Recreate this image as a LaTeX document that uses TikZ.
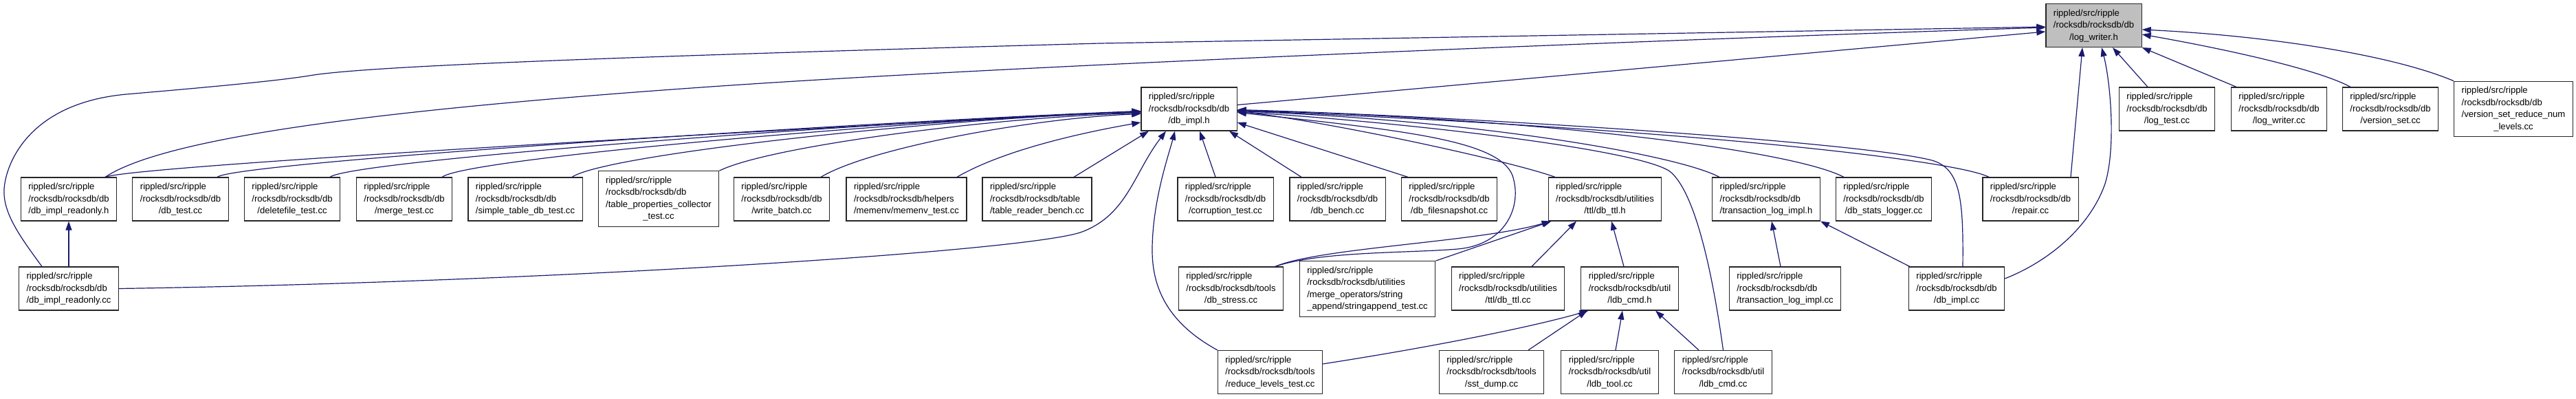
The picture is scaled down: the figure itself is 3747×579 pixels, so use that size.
\documentclass[tikz,border=0pt]{standalone}
\usepackage{fontspec}
\setmainfont{Liberation Sans}
\usepackage{xcolor}
\usetikzlibrary{arrows.meta}
\definecolor{edgeblue}{HTML}{191970}
\renewcommand{\arraystretch}{1}
\newcommand{\fpath}[2]{\begin{tabular}{@{}l@{}}rippled/src/ripple\\#1\\\multicolumn{1}{@{}c@{}}{#2}\end{tabular}}

\begin{document}
\begin{tikzpicture}[
  x=1pt, y=-1pt,
  box/.style={draw=black!85, line width=1.2pt, fill=white, inner xsep=11pt, inner ysep=5.25pt, font=\fontsize{13.1}{17.5}\selectfont},
  arr/.style={-{Triangle[length=13pt,width=9pt]}, line width=1.2pt, draw=edgeblue, fill=none}
]
\useasboundingbox (0,0) rectangle (3747,579);

\node[box, fill=black!25] (logwrh) at (3045.5,37) {\fpath{/rocksdb/rocksdb/db}{/log\_writer.h}};
\node[box] (logtest) at (3152,158.5) {\fpath{/rocksdb/rocksdb/db}{/log\_test.cc}};
\node[box] (logwrcc) at (3315,158.5) {\fpath{/rocksdb/rocksdb/db}{/log\_writer.cc}};
\node[box] (verset) at (3477,158.5) {\fpath{/rocksdb/rocksdb/db}{/version\_set.cc}};
\node[box] (vsreduce) at (3656,158.5) {\fpath{/rocksdb/rocksdb/db\\/version\_set\_reduce\_num}{\_levels.cc}};
\node[box] (dbimplh) at (1729.5,158.5) {\fpath{/rocksdb/rocksdb/db}{/db\_impl.h}};

\node[box] (roh) at (100,289.5) {\fpath{/rocksdb/rocksdb/db}{/db\_impl\_readonly.h}};
\node[box] (dbtest) at (262.5,289.5) {\fpath{/rocksdb/rocksdb/db}{/db\_test.cc}};
\node[box] (delfile) at (425,289.5) {\fpath{/rocksdb/rocksdb/db}{/deletefile\_test.cc}};
\node[box] (mergetest) at (588,289.5) {\fpath{/rocksdb/rocksdb/db}{/merge\_test.cc}};
\node[box] (simpletable) at (764,289.5) {\fpath{/rocksdb/rocksdb/db}{/simple\_table\_db\_test.cc}};
\node[box] (tblprops) at (958,289) {\fpath{/rocksdb/rocksdb/db\\/table\_properties\_collector}{\_test.cc}};
\node[box] (wbatch) at (1137,289.5) {\fpath{/rocksdb/rocksdb/db}{/write\_batch.cc}};
\node[box] (memenv) at (1318.5,289.5) {\fpath{/rocksdb/rocksdb/helpers}{/memenv/memenv\_test.cc}};
\node[box] (trbench) at (1508.5,289.5) {\fpath{/rocksdb/rocksdb/table}{/table\_reader\_bench.cc}};
\node[box] (corrupt) at (1782.5,289.5) {\fpath{/rocksdb/rocksdb/db}{/corruption\_test.cc}};
\node[box] (dbbench) at (1945.5,289.5) {\fpath{/rocksdb/rocksdb/db}{/db\_bench.cc}};
\node[box] (fsnap) at (2108,289.5) {\fpath{/rocksdb/rocksdb/db}{/db\_filesnapshot.cc}};
\node[box] (ttlh) at (2334.5,289.5) {\fpath{/rocksdb/rocksdb/utilities}{/ttl/db\_ttl.h}};
\node[box] (tlogh) at (2569,289.5) {\fpath{/rocksdb/rocksdb/db}{/transaction\_log\_impl.h}};
\node[box] (statslog) at (2740,289.5) {\fpath{/rocksdb/rocksdb/db}{/db\_stats\_logger.cc}};
\node[box] (repair) at (2953.5,289.5) {\fpath{/rocksdb/rocksdb/db}{/repair.cc}};

\node[box] (rocc) at (100,419.5) {\fpath{/rocksdb/rocksdb/db}{/db\_impl\_readonly.cc}};
\node[box] (dbstress) at (1790.5,419.5) {\fpath{/rocksdb/rocksdb/tools}{/db\_stress.cc}};
\node[box] (strappend) at (1989,420) {\fpath{/rocksdb/rocksdb/utilities\\/merge\_operators/string}{\_append/stringappend\_test.cc}};
\node[box] (ttlcc) at (2193.5,419.5) {\fpath{/rocksdb/rocksdb/utilities}{/ttl/db\_ttl.cc}};
\node[box] (ldbcmdh) at (2370.5,419.5) {\fpath{/rocksdb/rocksdb/util}{/ldb\_cmd.h}};
\node[box] (tlogcc) at (2596.5,419.5) {\fpath{/rocksdb/rocksdb/db}{/transaction\_log\_impl.cc}};
\node[box] (dbimplcc) at (2846,419.5) {\fpath{/rocksdb/rocksdb/db}{/db\_impl.cc}};

\node[box] (reduce) at (1847.5,541) {\fpath{/rocksdb/rocksdb/tools}{/reduce\_levels\_test.cc}};
\node[box] (sstdump) at (2169.5,541) {\fpath{/rocksdb/rocksdb/tools}{/sst\_dump.cc}};
\node[box] (ldbtool) at (2341.5,541) {\fpath{/rocksdb/rocksdb/util}{/ldb\_tool.cc}};
\node[box] (ldbcmdcc) at (2506.5,541) {\fpath{/rocksdb/rocksdb/util}{/ldb\_cmd.cc}};

% into log_writer.h
\draw[arr] ([xshift=-39pt]rocc.north) .. controls (30,345) and (4,310) .. (6,275) .. controls (8,240) and (40,150) .. (184,137) .. controls (300,127) and (400,118) .. (450,110) .. controls (520,98) and (800,85) .. (1600,63) -- ([yshift=-2pt]logwrh.west);
\draw[arr] ([xshift=53pt]roh.north) .. controls (240,200) and (550,160) .. (1020,127) .. controls (1500,93) and (2500,55) .. ([yshift=-3pt]logwrh.west);
\draw[arr] ([yshift=6pt]dbimplh.east) -- ([yshift=-9pt]logwrh.west);
\draw[arr] ([xshift=58.5pt]repair.north) -- ([xshift=-16.5pt]logwrh.south);
\draw[arr] ([yshift=14.5pt]dbimplcc.east) .. controls (2980,380) and (3040,330) .. (3062,267) .. controls (3078,215) and (3070,120) .. ([xshift=11.5pt]logwrh.south);
\draw[arr] ([xshift=-28pt]logtest.north) -- ([xshift=27.5pt]logwrh.south);
\draw[arr] ([xshift=-62pt]logwrcc.north) -- (logwrh.south east);
\draw[arr] ([xshift=-58pt]verset.north) .. controls (3370,100) and (3230,70) .. ([yshift=-13pt]logwrh.east);
\draw[arr] (vsreduce.north west) .. controls (3480,80) and (3300,52) .. ([yshift=-6pt]logwrh.east);

% into db_impl.h
\draw[arr] ([xshift=53pt]roh.north) .. controls (200,240) and (1200,185) .. ([yshift=-3pt]dbimplh.west);
\draw[arr] ([xshift=53.5pt]dbtest.north) .. controls (345,235) and (1300,175) .. ([yshift=-3pt]dbimplh.west);
\draw[arr] ([xshift=55pt]delfile.north) .. controls (512,232) and (1350,172) .. ([yshift=-4pt]dbimplh.west);
\draw[arr] ([xshift=55pt]mergetest.north) .. controls (682,228) and (1400,170) .. ([yshift=-4pt]dbimplh.west);
\draw[arr] ([xshift=68pt]simpletable.north) .. controls (885,222) and (1420,168) .. ([yshift=-5pt]dbimplh.west);
\draw[arr] (tblprops.north east) .. controls (1120,212) and (1450,170) .. ([yshift=-6pt]dbimplh.west);
\draw[arr] ([xshift=57pt]wbatch.north) .. controls (1265,215) and (1500,172) .. ([yshift=-7pt]dbimplh.west);
\draw[arr] ([xshift=73.5pt]memenv.north) .. controls (1465,215) and (1590,190) .. ([yshift=-19.5pt]dbimplh.west);
\draw[arr] ([xshift=53.5pt]trbench.north) -- ([xshift=-58.5pt]dbimplh.south);
\draw[arr] (rocc.east) .. controls (800,410) and (1500,365) .. (1574,337) .. controls (1640,312) and (1650,250) .. ([xshift=-33.5pt]dbimplh.south);
\draw[arr] (reduce.north west) .. controls (1700,470) and (1675,420) .. (1676,360) .. controls (1677,290) and (1700,225) .. ([xshift=-20.5pt]dbimplh.south);
\draw[arr] ([xshift=-14.5pt]corrupt.north) -- ([xshift=15.5pt]dbimplh.south);
\draw[arr] ([xshift=-52.5pt]dbbench.north) -- ([xshift=58.5pt]dbimplh.south);
\draw[arr] ([xshift=-60pt]fsnap.north) -- ([yshift=-19.5pt]dbimplh.east);
\draw[arr] ([xshift=-72.5pt]ttlh.north) .. controls (2200,235) and (1950,180) .. ([yshift=-3pt]dbimplh.east);
\draw[arr] ([xshift=-68pt]tlogh.north) .. controls (2440,225) and (2150,175) .. ([yshift=-3pt]dbimplh.east);
\draw[arr] ([xshift=-58pt]statslog.north) .. controls (2600,215) and (2200,170) .. ([yshift=-2pt]dbimplh.east);
\draw[arr] ([xshift=-60.5pt]repair.north) .. controls (2850,235) and (2500,190) .. ([yshift=-2pt]dbimplh.east);
\draw[arr] ([xshift=9pt]dbimplcc.north) .. controls (2856,290) and (2852,245) .. (2810,233) .. controls (2700,205) and (2100,168) .. ([yshift=-1pt]dbimplh.east);
\draw[arr] (ldbcmdcc.north) .. controls (2490,390) and (2465,280) .. (2430,250) .. controls (2390,218) and (2050,178) .. ([yshift=-4pt]dbimplh.east);
\draw[arr] ([xshift=64.5pt]dbstress.north) .. controls (1920,365) and (2050,368) .. (2120,362) .. controls (2190,356) and (2215,300) .. (2200,255) .. controls (2180,205) and (2050,190) .. ([yshift=-5pt]dbimplh.east);

% into db_ttl.h
\draw[arr] ([xshift=64.5pt]dbstress.north) .. controls (1920,360) and (2150,352) .. ([xshift=-79pt]ttlh.south);
\draw[arr] (strappend.north east) -- ([xshift=-78pt]ttlh.south);
\draw[arr] ([xshift=34.5pt]ttlcc.north) -- ([xshift=-41.5pt]ttlh.south);
\draw[arr] ([xshift=-8.5pt]ldbcmdh.north) -- ([xshift=9.5pt]ttlh.south);

% into transaction_log_impl.h
\draw[arr] ([xshift=-6.5pt]tlogcc.north) -- ([xshift=8pt]tlogh.south);
\draw[arr] ([xshift=2pt]dbimplcc.north west) -- (tlogh.south east);

% into ldb_cmd.h
\draw[arr] ([yshift=12pt]reduce.east) .. controls (2080,505) and (2230,475) .. ([xshift=-60pt]ldbcmdh.south);
\draw[arr] ([xshift=53.5pt]sstdump.north) -- ([xshift=-62pt]ldbcmdh.south);
\draw[arr] ([xshift=8.5pt]ldbtool.north) -- ([xshift=-10.5pt]ldbcmdh.south);
\draw[arr] ([xshift=-35.5pt]ldbcmdcc.north) -- ([xshift=37.5pt]ldbcmdh.south);

% into db_impl_readonly.h
\draw[arr] (rocc.north) -- (roh.south);
\end{tikzpicture}
\end{document}
